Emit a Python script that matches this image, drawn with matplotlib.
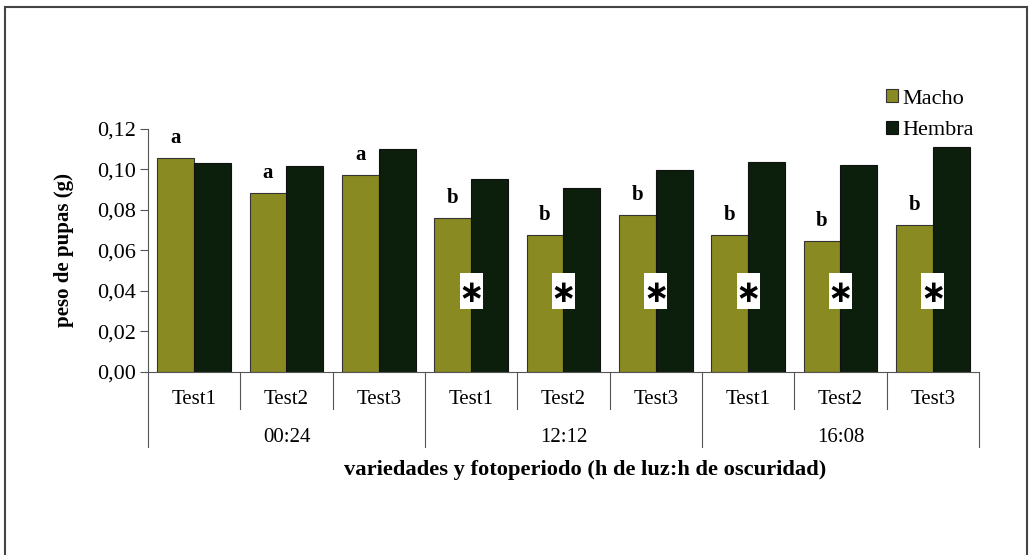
import matplotlib.pyplot as plt
from matplotlib.patches import Rectangle
import numpy as np

plt.rcParams['font.family'] = ['Liberation Serif', 'DejaVu Serif']

tests = ['Test1', 'Test2', 'Test3', 'Test1', 'Test2', 'Test3', 'Test1', 'Test2', 'Test3']
groups = ['00:24', '12:12', '16:08']
macho = [0.1058, 0.0885, 0.0973, 0.0761, 0.0676, 0.0776, 0.0676, 0.0648, 0.0725]
hembra = [0.1033, 0.1015, 0.1103, 0.0951, 0.0910, 0.0997, 0.1038, 0.1024, 0.1110]
letters = ['a', 'a', 'a', 'b', 'b', 'b', 'b', 'b', 'b']
signif = [False, False, False, True, True, True, True, True, True]
yticks = [0.00, 0.02, 0.04, 0.06, 0.08, 0.10, 0.12]
ytick_labels = ['0,00', '0,02', '0,04', '0,06', '0,08', '0,10', '0,12']

col_macho = '#8a8a22'
col_hembra = '#0c1e0c'

fig = plt.figure(figsize=(10.29, 5.55), dpi=100)
ax = fig.add_axes([148/1029, 1 - 371.7/555, (979 - 148)/1029, (371.7 - 129)/555])

x = np.arange(len(tests))
w = 0.4
ax.bar(x - w/2, macho, w, color=col_macho, edgecolor='#333333', linewidth=0.8, label='Macho')
ax.bar(x + w/2, hembra, w, color=col_hembra, edgecolor='#111111', linewidth=0.8, label='Hembra')

for i in range(len(tests)):
    ax.text(x[i] - w/2, macho[i] + 0.0097, letters[i], ha='center', va='center',
            fontsize=15, fontweight='bold')
    if signif[i]:
        # white box with asterisk on the boundary between the two bars
        ax.add_patch(Rectangle((x[i] - 0.123, 0.0309), 0.246, 0.0178, facecolor='white',
                               edgecolor='none', zorder=3))
        ax.text(x[i], 0.0388, '\u2217', ha='center', va='center', fontsize=22,
                fontweight='bold', family='DejaVu Sans', zorder=4)

ax.set_xlim(-0.5, len(tests) - 0.5)
ax.set_ylim(0, 0.12)
ax.set_yticks(yticks)
ax.set_yticklabels(ytick_labels, fontsize=16)
ax.tick_params(axis='y', direction='out', length=6, width=0.8, color='#555555', pad=3)
ax.set_xticks([])
for s in ['top', 'right']:
    ax.spines[s].set_visible(False)
ax.spines['left'].set_color('#555555')
ax.spines['bottom'].set_color('#555555')
ax.spines['left'].set_linewidth(0.8)
ax.spines['bottom'].set_linewidth(0.8)

ax.set_ylabel('peso de pupas (g)', fontsize=15, fontweight='bold', labelpad=16)

# category axis with two levels
px = 242.7
trans = ax.get_xaxis_transform()
for i in range(len(tests) + 1):
    long_line = i % 3 == 0
    y_end = -(447 - 371.7) / px if long_line else -(409 - 371.7) / px
    ax.plot([i - 0.5, i - 0.5], [0, y_end], transform=trans, color='#555555',
            lw=0.8, clip_on=False)
for i, t in enumerate(tests):
    ax.text(x[i], -(400 - 371.7) / px, t, transform=trans, ha='center', va='center',
            fontsize=15)
for g, name in enumerate(groups):
    ax.text(3 * g + 1, -(438 - 371.7) / px, name, transform=trans, ha='center',
            va='center', fontsize=15)
ax.text(4.23, -(470 - 371.7) / px, 'variedades y fotoperiodo (h de luz:h de oscuridad)',
        transform=trans, ha='center', va='center', fontsize=16.2, fontweight='bold')

leg = fig.legend(loc='upper left', bbox_to_anchor=(886/1029, 1 - 89/555), frameon=False,
                 fontsize=16, handlelength=0.55, handleheight=0.55, handletextpad=0.2,
                 labelspacing=0.55, borderaxespad=0, borderpad=0)

fig.add_artist(Rectangle((5/1029, -0.05), (1027 - 5)/1029, 1.05 - 7/555, fill=False,
                         edgecolor='#444444', linewidth=1.5, transform=fig.transFigure))

fig.savefig('out.png', dpi=100)
